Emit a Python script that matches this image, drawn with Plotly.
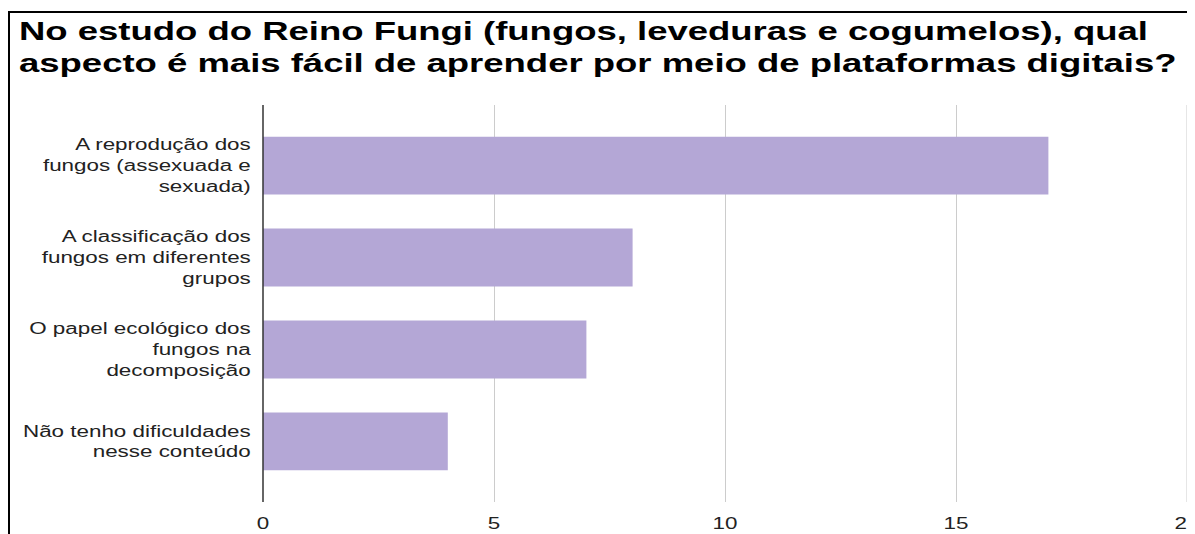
import plotly.graph_objects as go

title_text = "No estudo do Reino Fungi (fungos, leveduras e cogumelos), qual<br>aspecto é mais fácil de aprender por meio de plataformas digitais?"
categories = [
    "A reprodução dos<br>fungos (assexuada e<br>sexuada)",
    "A classificação dos<br>fungos em diferentes<br>grupos",
    "O papel ecológico dos<br>fungos na<br>decomposição",
    "Não tenho dificuldades<br>nesse conteúdo",
]
values = [17, 8, 7, 4]
x_ticks = [0, 5, 10, 15, 20]

fig = go.Figure(go.Bar(
    x=values, y=categories, orientation="h",
    marker=dict(color="#b4a7d6", line=dict(width=0)),
    width=0.63,
))

# page has an 8px body margin, so figure coords = page coords - 8
W, H = 1187, 526
L, R, T, B = 255, 8, 97, 32
pw, ph = W - L - R, H - T - B

def py(fig_y):
    return 1 + (T - fig_y) / ph

def px(fig_x):
    return (fig_x - L) / pw

fig.update_layout(
    width=W, height=H,
    margin=dict(l=L, r=R, t=T, b=B, autoexpand=False),
    paper_bgcolor="white", plot_bgcolor="white",
    showlegend=False,
    title=dict(text="<b>" + title_text + "</b>", x=11 / W, xanchor="left",
               y=1 - 32 / H, yanchor="middle",
               font=dict(family="Liberation Sans, Arial", size=25, color="#000000")),
    font=dict(family="Liberation Sans, Arial", size=16, color="#222222"),
    xaxis=dict(range=[0, 20], tickvals=x_ticks, showgrid=True, gridcolor="#cccccc",
               gridwidth=1, zeroline=False, showline=False,
               ticks="outside", ticklen=7, tickcolor="rgba(0,0,0,0)",
               ticklabeloverflow="allow",
               tickfont=dict(size=16, color="#222222")),
    yaxis=dict(autorange=False, range=[3.66, -0.66], showline=False, showgrid=False,
               ticks="outside", ticklen=8, tickcolor="rgba(0,0,0,0)",
               tickfont=dict(size=16, color="#222222")),
    shapes=[
        dict(type="line", xref="paper", yref="paper", x0=0, x1=0, y0=0, y1=1,
             line=dict(color="#333333", width=1.5)),
        dict(type="line", xref="paper", yref="paper", x0=1, x1=1, y0=0, y1=1,
             line=dict(color="#cccccc", width=1)),
        # outer frame: left edge and top edge as thin filled rectangles
        dict(type="rect", xref="paper", yref="paper", x0=px(0), x1=px(2),
             y0=py(H + 10), y1=py(3), fillcolor="#000000", line=dict(width=0)),
        dict(type="rect", xref="paper", yref="paper", x0=px(0), x1=px(W + 10),
             y0=py(5), y1=py(3), fillcolor="#000000", line=dict(width=0)),
    ],
)

post = """
var gd = document.getElementById('{plot_id}');
function stretch(sel, s, mode){
  gd.querySelectorAll(sel).forEach(function(t){
    var b = t.getBBox();
    var ax = mode === 'left' ? b.x : (mode === 'right' ? b.x + b.width : b.x + b.width / 2);
    var tr = t.getAttribute('transform') || '';
    t.setAttribute('transform', tr + ' translate(' + ax + ',0) scale(' + s + ',1) translate(' + (-ax) + ',0)');
  });
}
stretch('.gtitle', 1.46, 'left');
stretch('.ytick text', 1.4, 'right');
stretch('.xtick text', 1.4, 'center');
"""

fig.write_html("out.html", post_script=post, config={"displayModeBar": False})
